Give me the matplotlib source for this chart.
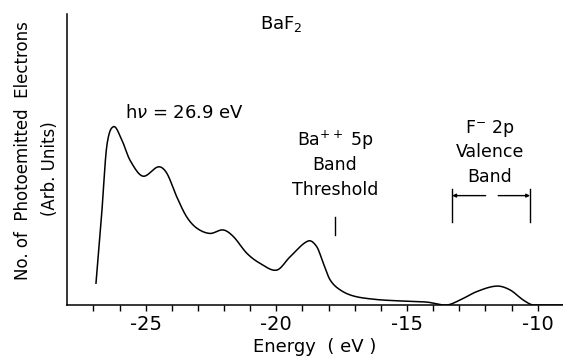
# BaF2 photoemission spectrum, hv = 26.9 eV
import numpy as np
import matplotlib.pyplot as plt
from matplotlib.ticker import FixedLocator, NullFormatter

plt.rcParams['font.family'] = ['DejaVu Sans']

# --- data (arbitrary units) ---
energy = [-26.90, -26.68, -26.49, -26.23, -25.91, -25.60, -25.11, -24.51,
          -24.19, -23.81, -23.43, -23.04, -22.54, -22.03, -21.64, -21.13,
          -20.62, -19.98, -19.47, -18.78, -18.45, -18.20, -17.94, -17.56,
          -17.05, -16.30, -15.53, -14.25, -13.48, -12.97, -12.33, -11.57,
          -11.06, -10.55, -10.17, -9.03]
counts = [0.075, 0.315, 0.544, 0.613, 0.567, 0.498, 0.443, 0.475,
          0.453, 0.372, 0.303, 0.264, 0.246, 0.258, 0.235, 0.178,
          0.143, 0.120, 0.166, 0.220, 0.200, 0.143, 0.086, 0.052,
          0.031, 0.020, 0.015, 0.010, 0.000, 0.017, 0.046, 0.065,
          0.052, 0.017, 0.000, 0.000]

major_ticks = [-25, -20, -15, -10]
minor_ticks = list(range(-27, -9))
threshold_e = -17.75
valence_band = (-13.27, -10.29)

# --- smooth curve through the read points (Catmull-Rom, display only) ---
e = np.array(energy)
c = np.array(counts)
fine = np.linspace(e[0], e[-1], 1000)
h = np.diff(e)
m = np.zeros_like(c)
m[1:-1] = (c[2:] - c[:-2]) / (e[2:] - e[:-2])
m[0] = (c[1] - c[0]) / h[0]
m[-1] = 0.0
idx = np.clip(np.searchsorted(e, fine) - 1, 0, len(e) - 2)
t = (fine - e[idx]) / h[idx]
h00 = 2 * t**3 - 3 * t**2 + 1
h10 = t**3 - 2 * t**2 + t
h01 = -2 * t**3 + 3 * t**2
h11 = t**3 - t**2
smooth = (h00 * c[idx] + h10 * h[idx] * m[idx] + h01 * c[idx + 1]
          + h11 * h[idx] * m[idx + 1])
smooth = np.clip(smooth, 0, None)

# --- figure ---
fig = plt.figure(figsize=(5.63, 3.62), dpi=100)
ax = fig.add_axes([0.1185, 0.1575, 0.8815, 0.8035])
ax.plot(fine, smooth, color='black', lw=1.1)

ax.set_xlim(-28.02, -9.03)
ax.set_ylim(0, 1)
for s in ['top', 'right']:
    ax.spines[s].set_visible(False)
for s in ['left', 'bottom']:
    ax.spines[s].set_linewidth(1.1)
ax.set_yticks([])
ax.xaxis.set_major_locator(FixedLocator(major_ticks))
ax.xaxis.set_minor_locator(FixedLocator(minor_ticks))
ax.xaxis.set_minor_formatter(NullFormatter())
ax.set_xticklabels([str(v) for v in major_ticks])
ax.tick_params(axis='x', which='both', direction='out', length=4,
               width=1, labelsize=14, pad=3)

ax.set_xlabel('Energy  ( eV )', fontsize=13, labelpad=3)
fig.text(0.041, 0.585, 'No. of  Photoemitted  Electrons', rotation=90,
         ha='center', va='center', fontsize=12)
fig.text(0.089, 0.533, '(Arb. Units)', rotation=90,
         ha='center', va='center', fontsize=12)

# --- annotations ---
ax.text(-19.79, 0.966, r'BaF$_2$', ha='center', va='center', fontsize=13)
ax.text(-25.78, 0.659, r'h$\nu$ = 26.9 eV', ha='left', va='center',
        fontsize=13)
ax.text(threshold_e, 0.567, r'Ba$^{++}$ 5p', ha='center', va='center',
        fontsize=12.5)
ax.text(threshold_e, 0.481, 'Band', ha='center', va='center', fontsize=12.5)
ax.text(threshold_e, 0.395, 'Threshold', ha='center', va='center',
        fontsize=12.5)
ax.plot([threshold_e, threshold_e], [0.241, 0.303], color='black', lw=1)

vc = -11.82
ax.text(vc, 0.607, r'F$^{-}$ 2p', ha='center', va='center', fontsize=12.5)
ax.text(vc, 0.527, 'Valence', ha='center', va='center', fontsize=12.5)
ax.text(vc, 0.441, 'Band', ha='center', va='center', fontsize=12.5)
for xb in valence_band:
    ax.plot([xb, xb], [0.286, 0.399], color='black', lw=1)
ax.annotate('', xy=(valence_band[0], 0.376), xytext=(-11.99, 0.376),
            arrowprops=dict(arrowstyle='-|>', color='black', lw=1,
                            mutation_scale=5, shrinkA=0, shrinkB=0))
ax.annotate('', xy=(valence_band[1], 0.376), xytext=(-11.51, 0.376),
            arrowprops=dict(arrowstyle='-|>', color='black', lw=1,
                            mutation_scale=5, shrinkA=0, shrinkB=0))

fig.savefig('out.png', dpi=100)
